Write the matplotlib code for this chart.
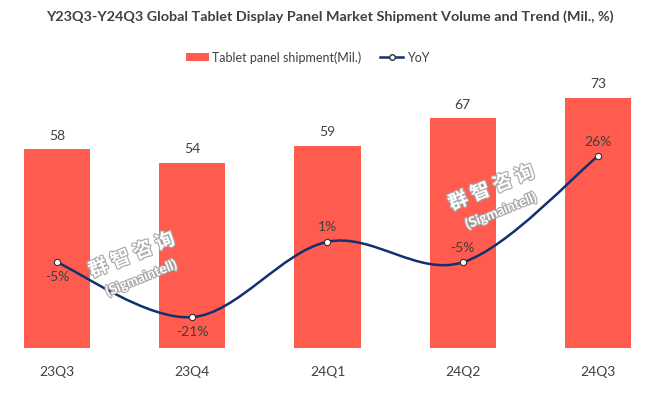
import numpy as np
import matplotlib.pyplot as plt
from matplotlib.path import Path
from matplotlib.patches import PathPatch
from matplotlib.lines import Line2D
from matplotlib.patches import Patch
import matplotlib.patheffects as pe

plt.rcParams['font.family'] = ['Lato', 'Noto Sans CJK SC', 'DejaVu Sans']

quarters = ['23Q3', '23Q4', '24Q1', '24Q2', '24Q3']
shipment = [58, 54, 59, 67, 73]
yoy = [-5, -21, 1, -5, 26]
yoy_labels = ['-5%', '-21%', '1%', '-5%', '26%']
yoy_above = [False, False, True, True, True]

bar_color = '#FF5B4F'
line_color = '#12306E'
text_color = '#404040'

fig = plt.figure(figsize=(6.6, 3.95), dpi=100)
ax = fig.add_axes([0, 0.119, 1, 0.694])
x = np.arange(len(quarters))

ax.bar(x, shipment, width=0.49, color=bar_color, zorder=1)
for xi, v in zip(x, shipment):
    ax.text(xi, v + 2.2, str(v), ha='center', va='bottom', fontsize=10, color=text_color)

ax.set_ylim(0, 80)
ax.set_xlim(-0.421, 4.458)
ax.set_xticks(x)
ax.set_xticklabels(quarters, fontsize=10, color=text_color)
ax.tick_params(axis='x', length=0, pad=13)
ax.set_yticks([])
for s in ax.spines.values():
    s.set_visible(False)

ax2 = ax.twinx()
ax2.set_ylim(-30, 50)
ax2.set_yticks([])
for s in ax2.spines.values():
    s.set_visible(False)

# smoothed line, bezier through the points like Excel's smoothing
pts = list(zip(x.astype(float), [float(v) for v in yoy]))
verts = [pts[0]]
codes = [Path.MOVETO]
n = len(pts)
for i in range(n - 1):
    p0 = pts[i - 1] if i > 0 else pts[i]
    p1 = pts[i]
    p2 = pts[i + 1]
    p3 = pts[i + 2] if i + 2 < n else pts[i + 1]
    c1 = (p1[0] + (p2[0] - p0[0]) / 6, p1[1] + (p2[1] - p0[1]) / 6)
    c2 = (p2[0] - (p3[0] - p1[0]) / 6, p2[1] - (p3[1] - p1[1]) / 6)
    verts += [c1, c2, p2]
    codes += [Path.CURVE4] * 3
ax2.add_patch(PathPatch(Path(verts, codes), facecolor='none', edgecolor=line_color, lw=1.8, zorder=3))
ax2.plot(x, yoy, linestyle='none', marker='o', markersize=4.5, markerfacecolor='white',
         markeredgecolor='#333333', markeredgewidth=0.8, zorder=4)
for xi, v, lab, up in zip(x, yoy, yoy_labels, yoy_above):
    if up:
        ax2.text(xi, v + 2.5, lab, ha='center', va='bottom', fontsize=10, color=text_color, zorder=5)
    else:
        ax2.text(xi, v - 2.5, lab, ha='center', va='top', fontsize=10, color=text_color, zorder=5)

# watermark
stroke = [pe.withStroke(linewidth=1.6, foreground='#A8A8A8')]
for wx, wy in [(0.2, 0.354), (0.745, 0.524)]:
    fig.text(wx, wy, '群 智 咨 询', fontsize=14, fontweight='bold', color='white', rotation=22,
             ha='center', va='center', family=['Noto Sans CJK SC'], path_effects=stroke, zorder=6)
    fig.text(wx + 0.014, wy - 0.058, '(Sigmaintell)', fontsize=10, fontweight='bold', color='white',
             rotation=22, ha='center', va='center', path_effects=stroke, zorder=6)

fig.text(0.5, 0.957, 'Y23Q3-Y24Q3 Global Tablet Display Panel Market Shipment Volume and Trend (Mil., %)',
         ha='center', va='center', fontsize=10.4, fontweight='bold', color=text_color)

handles = [Patch(facecolor=bar_color),
           Line2D([0], [0], color=line_color, lw=1.8, marker='o', markersize=4,
                  markerfacecolor='white', markeredgecolor='#333333')]
fig.legend(handles, ['Tablet panel shipment(Mil.)', 'YoY'], loc='center', bbox_to_anchor=(0.466, 0.855),
           ncol=2, frameon=False, fontsize=9, handlelength=1.8, handleheight=0.6, columnspacing=1.5,
           handletextpad=0.3, labelcolor=text_color)

fig.savefig('out.png', dpi=100)
